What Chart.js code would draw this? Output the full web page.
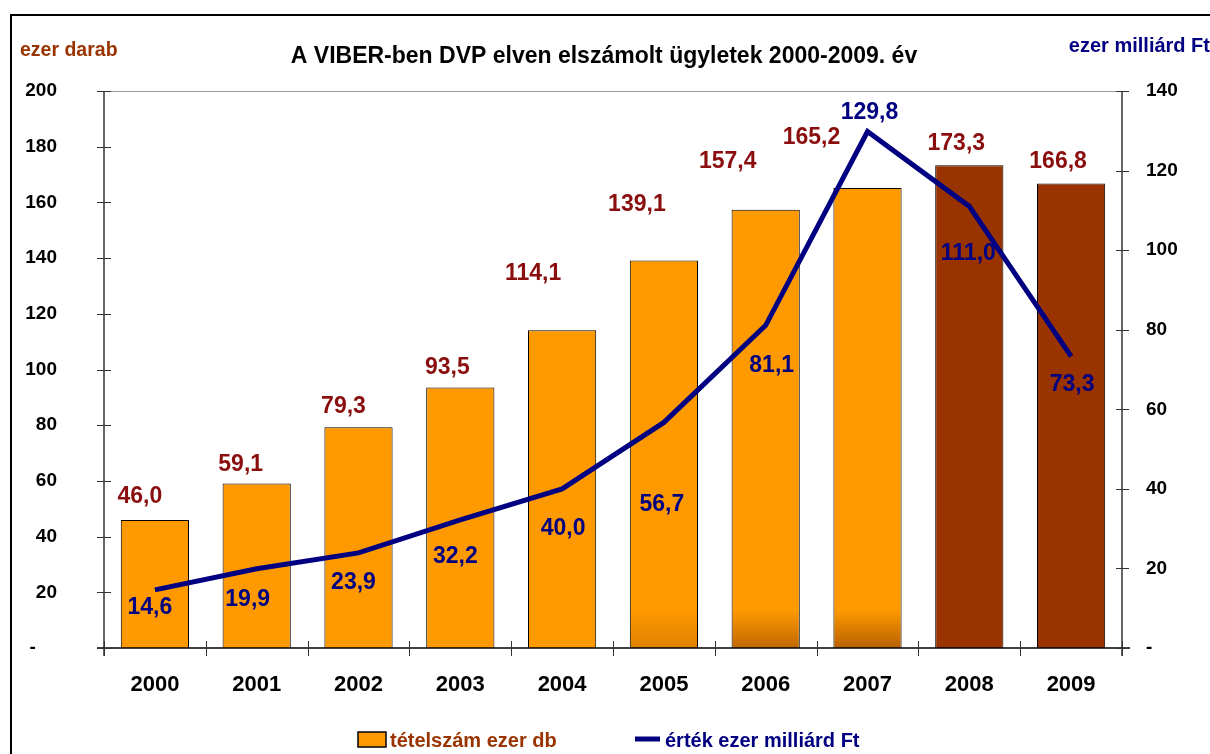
<!DOCTYPE html>
<html>
<head>
<meta charset="utf-8">
<script src="https://cdn.jsdelivr.net/npm/chart.js@4.4.1/dist/chart.umd.min.js"></script>
<style>
  html, body { margin: 0; padding: 0; background: #fff; }
  #wrap { width: 1210px; height: 754px; position: relative; }
</style>
</head>
<body>
<div id="wrap"><canvas id="viberChart" width="1210" height="754"></canvas></div>
<script>
// adatok
const years = ['2000', '2001', '2002', '2003', '2004', '2005', '2006', '2007', '2008', '2009'];
const tetelszam = [46.0, 59.1, 79.3, 93.5, 114.1, 139.1, 157.4, 165.2, 173.3, 166.8];
const ertek = [14.6, 19.9, 23.9, 32.2, 40.0, 56.7, 81.1, 129.8, 111.0, 73.3];
const leftTicks = [0, 20, 40, 60, 80, 100, 120, 140, 160, 180, 200];
const rightTicks = [0, 20, 40, 60, 80, 100, 120, 140];

// feliratok eltolása (px), hogy ne takarják a vonalat
const barLabelDx = [-15, -16, -15, -13, -29, -27, -38, -56, -13, -13];
const barLabelDy = [-23, -19, -20, -20, -57, -56, -48, -50, -22, -22];
const lineLabelDx = [-5, -9, -5, -5, 1, -2, 6, 2, -1, 1];
const lineLabelDy = [18, 31, 30, 37, 40, 82, 40, -19, 47, 28];

const ORANGE = '#FF9900';
const BROWN = '#993300';
const NAVY = '#000080';
const LABEL_RED = '#8B0E0E';
const FONT = '"Liberation Sans", Arial, sans-serif';

function fmt(v) { return v.toFixed(1).replace('.', ','); }

function barColor(ctx) {
  const i = ctx.dataIndex;
  if (i >= 8) return BROWN;
  const area = ctx.chart.chartArea;
  const shade = [0, 0, 0, 0, 0, 0.35, 0.7, 0.8][i];
  if (!area || !shade) return ORANGE;
  const g = ctx.chart.ctx.createLinearGradient(0, area.bottom - 38, 0, area.bottom);
  g.addColorStop(0, ORANGE);
  g.addColorStop(1, 'rgba(' + Math.round(255 - 90 * shade) + ',' + Math.round(153 - 70 * shade) + ',0,1)');
  return g;
}

const decor = {
  id: 'decor',
  beforeDatasetsDraw(chart) {
    const c = chart.ctx, a = chart.chartArea;
    c.save();
    // plot area keret
    c.strokeStyle = '#9a9a9a';
    c.lineWidth = 1;
    c.beginPath();
    c.moveTo(a.left, a.top + 0.5); c.lineTo(a.right, a.top + 0.5);
    c.stroke();
    c.restore();
  },
  afterDatasetsDraw(chart) {
    const c = chart.ctx, a = chart.chartArea;
    const x = chart.scales.x, y = chart.scales.y, y1 = chart.scales.y1;
    c.save();
    // tengelyek
    c.strokeStyle = '#333';
    c.lineWidth = 1.5;
    c.beginPath();
    c.moveTo(a.left, a.top); c.lineTo(a.left, a.bottom + 8);
    c.moveTo(a.right, a.top); c.lineTo(a.right, a.bottom + 8);
    c.stroke();
    c.strokeStyle = '#000';
    c.beginPath();
    c.moveTo(a.left - 7, a.bottom); c.lineTo(a.right + 8, a.bottom);
    c.stroke();
    // osztások
    c.lineWidth = 1;
    c.strokeStyle = '#333';
    c.beginPath();
    leftTicks.forEach(v => {
      const py = Math.round(y.getPixelForValue(v)) + 0.5;
      c.moveTo(a.left - 7, py); c.lineTo(a.left + 7, py);
    });
    rightTicks.forEach(v => {
      const py = Math.round(y1.getPixelForValue(v)) + 0.5;
      c.moveTo(a.right - 6, py); c.lineTo(a.right + 7, py);
    });
    const step = (a.right - a.left) / years.length;
    for (let i = 0; i <= years.length; i++) {
      const px = Math.round(x.getPixelForValue(0) - step / 2 + i * step) + 0.5;
      c.moveTo(px, a.bottom - 7); c.lineTo(px, a.bottom + 8);
    }
    c.stroke();

    // adatfeliratok
    c.font = 'bold 23px ' + FONT;
    c.textAlign = 'center';
    c.textBaseline = 'middle';
    const bars = chart.getDatasetMeta(0).data;
    c.fillStyle = LABEL_RED;
    bars.forEach((b, i) => {
      c.fillText(fmt(tetelszam[i]), b.x + barLabelDx[i], b.y + barLabelDy[i]);
    });
    const pts = chart.getDatasetMeta(1).data;
    c.fillStyle = NAVY;
    pts.forEach((p, i) => {
      c.fillText(fmt(ertek[i]), p.x + lineLabelDx[i], p.y + lineLabelDy[i]);
    });
    c.restore();
  },
  afterDraw(chart) {
    const c = chart.ctx;
    c.save();
    // külső keret
    c.strokeStyle = '#000';
    c.lineWidth = 2;
    c.beginPath();
    c.moveTo(11, 754); c.lineTo(11, 15); c.lineTo(1210, 15);
    c.stroke();

    // cím és tengelycímek
    c.textBaseline = 'alphabetic';
    c.font = 'bold 23px ' + FONT;
    c.fillStyle = '#000';
    c.textAlign = 'center';
    c.fillText('A VIBER-ben DVP elven elszámolt ügyletek 2000-2009. év', 604, 63);
    c.font = 'bold 19.5px ' + FONT;
    c.textAlign = 'left';
    c.fillStyle = BROWN;
    c.fillText('ezer darab', 20, 56);
    c.font = 'bold 20px ' + FONT;
    c.textAlign = 'right';
    c.fillStyle = NAVY;
    c.fillText('ezer milliárd Ft', 1210, 52);

    // jelmagyarázat
    const ds = chart.data.datasets;
    c.font = 'bold 20px ' + FONT;
    c.textAlign = 'left';
    c.fillStyle = ORANGE;
    c.fillRect(358, 732, 28, 15);
    c.strokeStyle = '#000';
    c.lineWidth = 1.5;
    c.strokeRect(358, 732, 28, 15);
    c.fillStyle = BROWN;
    c.fillText(ds[0].label, 390, 747);
    c.strokeStyle = NAVY;
    c.lineWidth = 5;
    c.beginPath();
    c.moveTo(635, 739); c.lineTo(660, 739);
    c.stroke();
    c.fillStyle = NAVY;
    c.fillText(ds[1].label, 665, 747);
    c.restore();
  }
};

new Chart(document.getElementById('viberChart'), {
  data: {
    labels: years,
    datasets: [
      {
        type: 'bar',
        label: 'tételszám ezer db',
        data: tetelszam,
        yAxisID: 'y',
        backgroundColor: barColor,
        borderColor: '#000',
        borderWidth: 1,
        barPercentage: 0.67,
        categoryPercentage: 1,
        order: 2
      },
      {
        type: 'line',
        label: 'érték ezer milliárd Ft',
        data: ertek,
        yAxisID: 'y1',
        borderColor: NAVY,
        borderWidth: 5,
        pointRadius: 0,
        tension: 0,
        order: 1
      }
    ]
  },
  options: {
    responsive: false,
    animation: false,
    layout: { padding: { top: 91, left: 0, right: 0, bottom: 0 } },
    plugins: { legend: { display: false }, tooltip: { enabled: false } },
    scales: {
      x: {
        grid: { display: false, drawTicks: false },
        border: { display: false },
        ticks: { font: { family: FONT, size: 22, weight: 'bold' }, color: '#000', padding: 24 },
        afterFit(s) { s.height = 106; }
      },
      y: {
        position: 'left',
        min: 0, max: 200,
        grid: { display: false, drawTicks: false },
        border: { display: false },
        ticks: {
          stepSize: 20,
          font: { family: FONT, size: 19, weight: 'bold' },
          color: '#000',
          padding: 47,
          callback: v => v === 0 ? '-    ' : v
        },
        afterFit(s) { s.width = 104; }
      },
      y1: {
        position: 'right',
        min: 0, max: 140,
        grid: { display: false, drawTicks: false },
        border: { display: false },
        ticks: {
          stepSize: 20,
          font: { family: FONT, size: 19, weight: 'bold' },
          color: '#000',
          padding: 24,
          callback: v => v === 0 ? '-' : v
        },
        afterFit(s) { s.width = 88; }
      }
    }
  },
  plugins: [decor]
});
</script>
</body>
</html>
